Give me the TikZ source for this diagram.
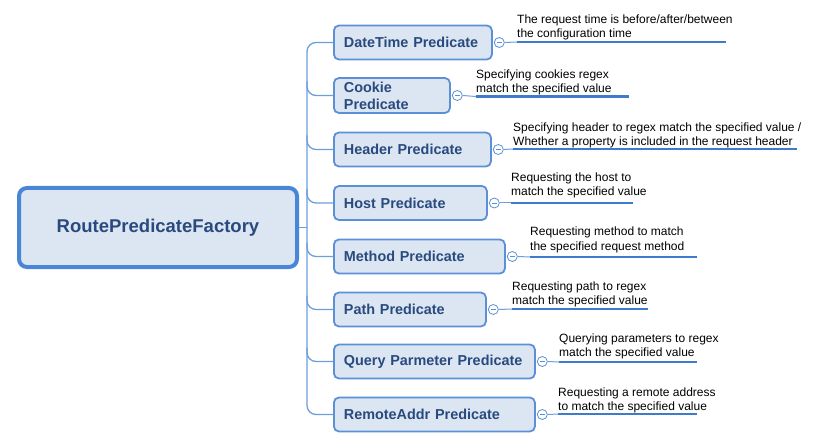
\documentclass[tikz,border=0pt]{standalone}
\usepackage{fontspec}
\setmainfont{Liberation Sans}
\usetikzlibrary{calc}
\definecolor{boxfill}{HTML}{DCE6F2}
\definecolor{boxline}{HTML}{5B8FD6}
\definecolor{rootline}{HTML}{4A86D8}
\definecolor{txtblue}{HTML}{284A7E}
\definecolor{conn}{HTML}{6C9EDC}
\definecolor{uline}{HTML}{3F7BCB}
\tikzset{
  rootbox/.style={draw=rootline, line width=4pt, fill=boxfill, rounded corners=8pt,
    minimum width=278pt, minimum height=79pt, inner sep=0pt,
    font=\fontsize{18.5}{22}\selectfont\bfseries, text=txtblue},
  childbox/.style={draw=boxline, line width=1.8pt, fill=boxfill, rounded corners=5pt,
    anchor=west, minimum height=34pt, inner xsep=10pt, inner ysep=0pt, align=left,
    font=\fontsize{14.4}{17}\selectfont\bfseries, text=txtblue},
  circ/.style={circle, draw=boxline, line width=0.8pt, fill=white, minimum size=10pt, inner sep=0pt,
    path picture={\draw[boxline, line width=0.9pt] ([xshift=-2.5pt]path picture bounding box.center) -- ([xshift=2.5pt]path picture bounding box.center);}},
  desc/.style={anchor=base west, inner sep=0pt, align=left,
    font=\fontsize{12}{14}\selectfont, text=black},
  branch/.style={draw=conn, line width=1.3pt, rounded corners=9pt},
  thin/.style={draw=conn, line width=1pt},
  under/.style={draw=uline, line width=2.8pt},
}
\begin{document}
\begin{tikzpicture}[x=1pt, y=-1pt]
\useasboundingbox (0,0) rectangle (834,438);
\node[rootbox] (root) at (158,227.5) {RoutePredicateFactory};
\coordinate (tr) at (307,0);

\node[childbox, text width=138pt] (c1) at (333,42.5) {DateTime Predicate};
\node[childbox, text width=96pt, minimum height=35pt] (c2) at (333,95.5) {Cookie\\Predicate};
\node[childbox, text width=137pt] (c3) at (333,149.5) {Header Predicate};
\node[childbox, text width=133pt] (c4) at (333,203) {Host Predicate};
\node[childbox, text width=151pt] (c5) at (333,256.5) {Method Predicate};
\node[childbox, text width=132pt] (c6) at (333,309.5) {Path Predicate};
\node[childbox, text width=181pt] (c7) at (333,361.5) {Query Parmeter Predicate};
\node[childbox, text width=181pt] (c8) at (333,414.5) {RemoteAddr Predicate};

% connectors
\draw[branch] (root.east) -- (root.east -| tr);
\draw[branch] (c1.west) -| ([xshift=-26pt]c8.west) -- (c8.west);
\foreach \i in {2,...,7}{
  \draw[branch] ($(c\i.west -| tr)+(0,-14)$) |- (c\i.west);
}

% circles
\foreach \i in {1,...,8}{
  \node[circ] (k\i) at ([xshift=6.5pt]c\i.east) {};
}

% underline coordinates
\coordinate (u1a) at (517,42);  \coordinate (u1b) at (726,42);
\coordinate (u2a) at (476,96.5);  \coordinate (u2b) at (629,96.5);
\coordinate (u3a) at (513,149);  \coordinate (u3b) at (797,149);
\coordinate (u4a) at (511,203);  \coordinate (u4b) at (633,203);
\coordinate (u5a) at (530,257);  \coordinate (u5b) at (697,257);
\coordinate (u6a) at (512,309);  \coordinate (u6b) at (648,309);
\coordinate (u7a) at (559,362);  \coordinate (u7b) at (697,362);
\coordinate (u8a) at (558,414);  \coordinate (u8b) at (697,414);

\foreach \i in {1,...,8}{
  \draw[thin] (k\i.east) -- (u\i a);
  \draw[under] (u\i a) -- (u\i b);
}

% descriptions (anchor = baseline of last line)
\node[desc] (t1) at (517,38) {The request time is before/after/between\\the configuration time};
\node[desc] (t2) at (476,93) {Specifying cookies regex\\match the specified value};
\node[desc] (t3) at (513,145.5) {Specifying header to regex match the specified value /\\Whether a property is included in the request header};
\node[desc] (t4) at (511,196) {Requesting the host to\\match the specified value};
\node[desc] (t5) at (530,250) {Requesting method to match\\the specified request method};
\node[desc] (t6) at (512,304) {Requesting path to regex\\match the specified value};
\node[desc] (t7) at (559,356) {Querying parameters to regex\\match the specified value};
\node[desc] (t8) at (558,410) {Requesting a remote address\\to match the specified value};
\end{tikzpicture}
\end{document}
